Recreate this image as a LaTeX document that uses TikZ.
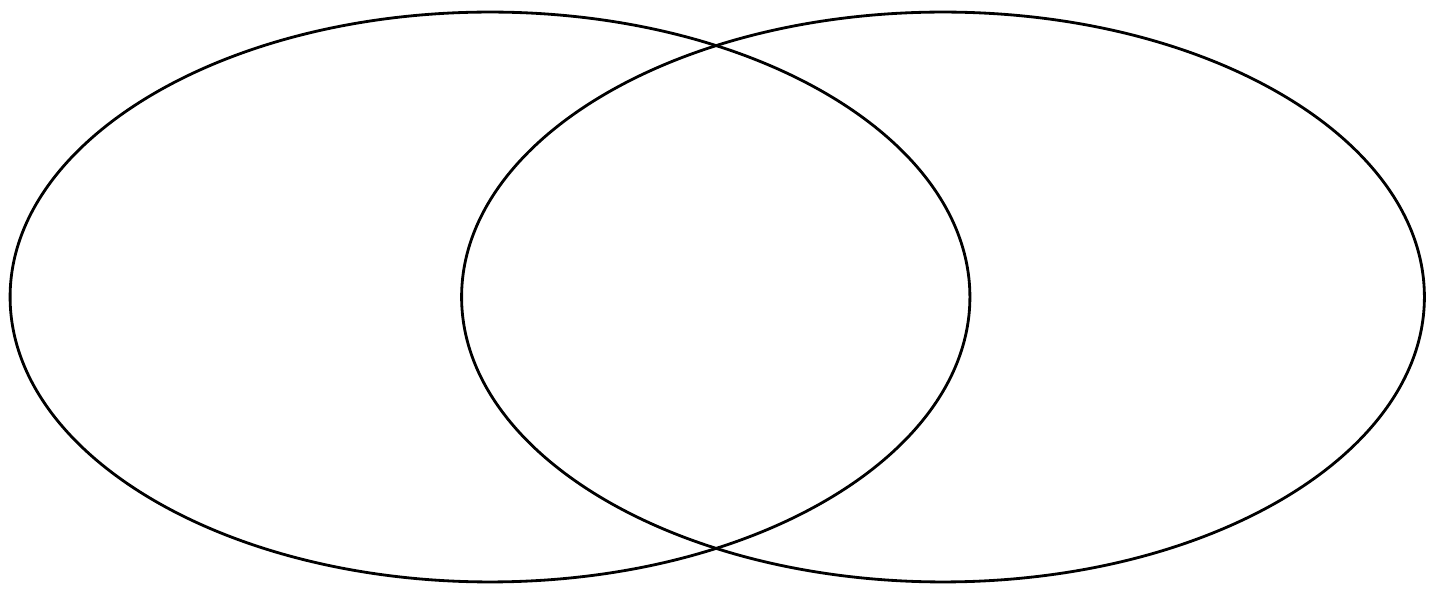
\documentclass[tikz,border=0pt]{standalone}
\usepackage{tikz}
\usetikzlibrary{shapes.geometric}
\tikzset{
  setring/.style={draw=black, ellipse, line width=1.6pt, minimum width=19.2cm, minimum height=11.4cm, inner sep=0pt}
}
\begin{document}
\begin{tikzpicture}[x=0.02cm, y=-0.02cm]
\useasboundingbox (0,0) rectangle (1439,590);
\node[setring] (left) at (490,297) {};
\node[setring, minimum width=19.26cm] (right) at (943,297) {};
\end{tikzpicture}
\end{document}
